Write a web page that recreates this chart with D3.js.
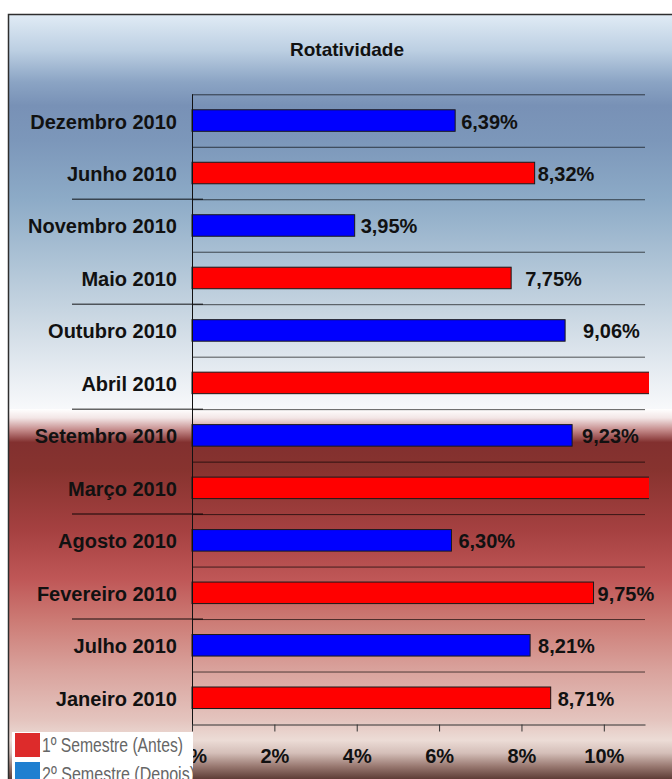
<!DOCTYPE html>
<html>
<head>
<meta charset="utf-8">
<script src="https://cdn.jsdelivr.net/npm/d3@7"></script>
<style>
  html, body { margin: 0; padding: 0; background: #fff; }
  svg { display: block; font-family: "Liberation Sans", Arial, sans-serif; }
</style>
</head>
<body>
<svg width="672" height="779"></svg>
<script>
// data (top to bottom)
const categories = ["Dezembro 2010", "Junho 2010", "Novembro 2010", "Maio 2010",
  "Outubro 2010", "Abril 2010", "Setembro 2010", "Março 2010",
  "Agosto 2010", "Fevereiro 2010", "Julho 2010", "Janeiro 2010"];
// Abril and Março run off the right edge, so their values are estimates
const values = [6.39, 8.32, 3.95, 7.75, 9.06, 11.6, 9.23, 11.9, 6.30, 9.75, 8.21, 8.71];
const semester = [2, 1, 2, 1, 2, 1, 2, 1, 2, 1, 2, 1];
const tickValues = [0, 2, 4, 6, 8, 10];
const legendLabels = ["1º Semestre (Antes)", "2º Semestre (Depois)"];

// labels were dragged by hand in the original, small offsets from bar end
const labelGap = [6, 3, 6, 14, 18, 0, 10, 0, 7, 4, 8, 7];

const barColor = { 1: "#ff0000", 2: "#0000ff" };
const legendColor = ["#dd2b2b", "#1f7fd0"];

const W = 672, H = 779;
const svg = d3.select("svg");
const defs = svg.append("defs");

function gradient(id, stops) {
  const g = defs.append("linearGradient")
    .attr("id", id).attr("x1", 0).attr("y1", 0).attr("x2", 0).attr("y2", 1);
  stops.forEach(s => g.append("stop").attr("offset", s[0]).attr("stop-color", s[1]));
}

gradient("bgTop", [
  [0, "#e0ebf5"], [0.09, "#bccfe2"], [0.17, "#8ba4c4"], [0.23, "#7891b6"],
  [0.32, "#7c97ba"], [0.47, "#8dabc7"], [0.62, "#acc2d5"], [0.77, "#cbd8e3"],
  [0.9, "#e5ebf1"], [1, "#f8f9fb"]
]);
gradient("bgBottom", [
  [0, "#ffffff"], [0.024, "#f3e6e6"], [0.057, "#c48a8a"], [0.09, "#82302f"],
  [0.165, "#87332f"], [0.33, "#a64141"], [0.46, "#bf5757"], [0.57, "#cc7a74"],
  [0.705, "#d9a29c"], [0.84, "#e4c4be"], [0.895, "#ecdcd6"], [0.93, "#d4beb8"],
  [0.965, "#9a7a72"], [1, "#5e3c36"]
]);

// background panels + frame
const splitY = 409;
svg.append("rect").attr("x", 9).attr("y", 15).attr("width", W - 9).attr("height", splitY - 15)
  .attr("fill", "url(#bgTop)");
svg.append("rect").attr("x", 9).attr("y", splitY).attr("width", W - 9).attr("height", H - splitY)
  .attr("fill", "url(#bgBottom)");
svg.append("path")
  .attr("d", `M8.5,${H} V14.5 H${W}`)
  .attr("fill", "none").attr("stroke", "#2e2e2e").attr("stroke-width", 1.5);

// scales
const x = d3.scaleLinear().domain([0, 11]).range([192, 645]);
const y = d3.scaleBand().domain(categories).range([94.3, 724])
  .paddingInner(0.59).paddingOuter(0.295);
const step = y.step();
const top0 = y.range()[0];

// title
svg.append("text")
  .attr("x", 347).attr("y", 56)
  .attr("text-anchor", "middle")
  .attr("font-size", 19).attr("font-weight", "bold").attr("fill", "#111")
  .text("Rotatividade");

// gridlines between categories
svg.append("g").selectAll("line")
  .data(d3.range(categories.length))
  .enter().append("line")
  .attr("x1", x(0)).attr("x2", x(11))
  .attr("y1", i => top0 + i * step + 0.5).attr("y2", i => top0 + i * step + 0.5)
  .attr("stroke", "#000").attr("stroke-opacity", 0.65);

// stray separator lines left of the axis, every second category
svg.append("g").selectAll("line")
  .data([2, 4, 6, 8, 10])
  .enter().append("line")
  .attr("x1", 72).attr("x2", 203)
  .attr("y1", i => top0 + i * step).attr("y2", i => top0 + i * step)
  .attr("stroke", "#000").attr("stroke-opacity", 0.6).attr("stroke-width", 1.5);

// bars
defs.append("clipPath").attr("id", "plotClip")
  .append("rect").attr("x", 190).attr("y", 0).attr("width", 649 - 190).attr("height", H);

const rows = categories.map((c, i) => ({ cat: c, v: values[i], s: semester[i], gap: labelGap[i] }));

svg.append("g").attr("clip-path", "url(#plotClip)")
  .selectAll(".bar")
  .data(rows)
  .enter().append("rect")
  .attr("class", "bar")
  .attr("x", x(0))
  .attr("y", d => y(d.cat))
  .attr("width", d => x(d.v) - x(0))
  .attr("height", y.bandwidth())
  .attr("fill", d => barColor[d.s])
  .attr("stroke", "#1a1a1a").attr("stroke-width", 1);

// value labels (only those inside the visible scale)
const fmt = v => d3.format(".2f")(v).replace(".", ",") + "%";
svg.append("g").selectAll("text")
  .data(rows.filter(d => d.v <= x.domain()[1]))
  .enter().append("text")
  .attr("x", d => x(d.v) + d.gap)
  .attr("y", d => y(d.cat) + y.bandwidth() / 2 + 8)
  .attr("font-size", 20).attr("font-weight", "bold").attr("fill", "#111")
  .text(d => fmt(d.v));

// category labels
svg.append("g").selectAll("text")
  .data(categories)
  .enter().append("text")
  .attr("x", 177)
  .attr("y", d => y(d) + y.bandwidth() / 2 + 8)
  .attr("text-anchor", "end")
  .attr("font-size", 20).attr("font-weight", "bold").attr("fill", "#111")
  .text(d => d);

// left axis line
svg.append("line")
  .attr("x1", x(0) + 0.5).attr("x2", x(0) + 0.5)
  .attr("y1", top0).attr("y2", 731)
  .attr("stroke", "#111");

// bottom axis
const xAxis = svg.append("g")
  .attr("transform", "translate(0,724.5)")
  .call(d3.axisBottom(x).tickValues(tickValues).tickSize(7).tickSizeOuter(0)
    .tickFormat(d => d + "%"));
xAxis.select(".domain").attr("stroke", "#333");
xAxis.selectAll(".tick line").attr("stroke", "#333");
xAxis.selectAll(".tick text")
  .attr("y", 24).attr("dy", "0.71em")
  .attr("font-family", "Liberation Sans, Arial, sans-serif")
  .attr("font-size", 20).attr("font-weight", "bold").attr("fill", "#111");

// legend (pasted box in the lower left corner, covers the 0% label as in the original)
const legend = svg.append("g");
legend.append("rect")
  .attr("x", 12).attr("y", 732).attr("width", 181).attr("height", H - 732)
  .attr("fill", "#fff");
legend.append("clipPath").attr("id", "legClip")
  .append("rect").attr("x", 12).attr("y", 732).attr("width", 181).attr("height", H - 732);
const items = legend.append("g").attr("clip-path", "url(#legClip)")
  .selectAll("g").data(legendLabels).enter().append("g")
  .attr("transform", (d, i) => `translate(15,${733 + i * 29})`);
items.append("rect")
  .attr("width", 25).attr("height", 24)
  .attr("fill", (d, i) => legendColor[i]);
items.append("text")
  .attr("x", 27).attr("y", 19)
  .attr("font-size", 21).attr("fill", "#666")
  .attr("textLength", (d, i) => i === 0 ? 141 : 153)
  .attr("lengthAdjust", "spacingAndGlyphs")
  .text(d => d);
</script>
</body>
</html>
